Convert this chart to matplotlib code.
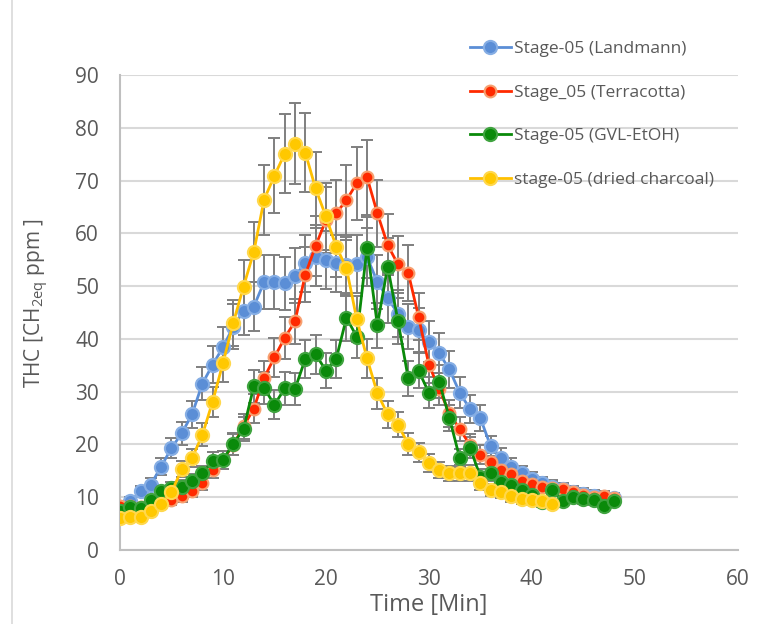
import numpy as np
import matplotlib
matplotlib.use("Agg")
import matplotlib.pyplot as plt
from matplotlib.lines import Line2D

plt.rcParams['font.family'] = ['Open Sans', 'DejaVu Sans']
plt.rcParams['mathtext.default'] = 'regular'

# data (THC in ppm, one point per minute)
landmann = [8.0, 9.2, 11.1, 12.4, 15.8, 19.3, 22.1, 25.7, 31.5, 35.1,
            38.4, 42.3, 45.3, 46.1, 50.8, 50.8, 50.5, 52.0, 54.3, 55.5,
            54.9, 54.3, 54.0, 54.2, 55.5, 50.8, 47.7, 44.8, 42.3, 41.6,
            39.5, 37.3, 34.2, 29.8, 26.7, 25.0, 19.7, 17.5, 15.8, 14.5,
            13.4, 12.6, 12.0, 11.5, 11.0, 10.6, 10.3, 10.0, 9.8]
terracotta = [8.3, 8.3, 8.1, 8.4, 8.8, 9.4, 10.2, 11.1, 12.6, 15.1,
              17.1, 19.9, 23.4, 26.8, 32.6, 36.5, 40.2, 43.3, 52.2, 57.6,
              62.5, 63.8, 66.3, 69.5, 70.6, 63.8, 57.8, 54.1, 52.5, 44.2,
              35.1, 30.5, 25.9, 22.9, 19.9, 18.0, 16.7, 15.2, 14.4, 13.1,
              12.5, 12.0, 11.8, 11.5, 10.9, 10.4, 10.1, 10.2, 9.8]
gvl_etoh = [7.3, 8.2, 7.9, 9.5, 11.1, 11.7, 12.0, 13.1, 14.5, 16.9,
            17.1, 20.1, 22.9, 31.0, 30.7, 27.5, 30.6, 30.5, 36.2, 37.1,
            34.0, 36.2, 44.0, 40.4, 57.3, 42.6, 53.7, 43.4, 32.5, 34.0,
            29.8, 31.9, 25.0, 17.4, 19.4, 13.9, 14.6, 12.9, 12.3, 11.4,
            10.4, 9.0, 11.3, 9.3, 10.0, 9.6, 9.4, 8.4, 9.3]
charcoal = [6.1, 6.3, 6.3, 7.3, 8.7, 10.9, 15.3, 17.4, 21.8, 28.1,
            35.4, 43.0, 49.9, 56.5, 66.4, 70.9, 75.1, 77.0, 75.3, 68.5,
            63.2, 57.5, 53.4, 43.7, 36.3, 29.7, 25.7, 23.7, 20.1, 18.5,
            16.5, 15.2, 14.5, 14.6, 14.6, 12.6, 11.4, 10.9, 10.2, 9.6,
            9.5, 9.2, 8.8]

labels = ["Stage-05 (Landmann)", "Stage_05 (Terracotta)",
          "Stage-05 (GVL-EtOH)", "stage-05 (dried charcoal)"]
series = [landmann, terracotta, gvl_etoh, charcoal]
ERR_PCT = 10  # percentage error bars

line_colors = ["#5B8ED6", "#FF2A00", "#0A8A0A", "#FFC000"]
face_colors = ["#5B8ED6", "#FF2A00", "#0A8A0A", "#FFC800"]
edge_colors = ["#86AEE4", "#F7A070", "#3FA33F", "#FFD84D"]
marker_sizes = [9.5, 8.5, 9.5, 9.5]

fig = plt.figure(figsize=(7.84, 6.24), dpi=100)
ax = fig.add_axes([0.153, 0.1186, 0.788, 0.7612])

for vals in series:
    y = np.array(vals)
    x = np.arange(len(y))
    ax.errorbar(x, y, yerr=y * ERR_PCT / 100, fmt='none', ecolor='#7F7F7F',
                elinewidth=1.4, capsize=4.5, capthick=1.4, zorder=2)

for i, vals in enumerate(series):
    y = np.array(vals)
    x = np.arange(len(y))
    ax.plot(x, y, color=line_colors[i], lw=2.0, marker='o',
            markersize=marker_sizes[i], markerfacecolor=face_colors[i],
            markeredgecolor=edge_colors[i], markeredgewidth=1.5,
            label=labels[i], zorder=3 + i)

ax.set_xlim(0, 60)
ax.set_ylim(0, 90)
ax.set_xticks(range(0, 61, 10))
ax.set_yticks(range(0, 91, 10))
ax.yaxis.grid(True, color='#D9D9D9', lw=1.5)
ax.set_axisbelow(True)
ax.tick_params(length=0, labelsize=15, colors='#595959')
ax.tick_params(axis='x', pad=14)
ax.tick_params(axis='y', pad=15)
for s in ['top', 'right']:
    ax.spines[s].set_visible(False)
for s in ['left', 'bottom']:
    ax.spines[s].set_color('#BFBFBF')
    ax.spines[s].set_linewidth(1.5)

ax.set_xlabel("Time [Min]", fontsize=17, color='#595959', labelpad=2)
ax.set_ylabel("THC [CH$_{2eq}$ ppm ]", fontsize=15, color='#595959', labelpad=4)
ax.yaxis.set_label_coords(-0.112, 0.52)

leg = ax.legend(loc='upper left', bbox_to_anchor=(0.566, 1.072), frameon=False,
                fontsize=12.5, handlelength=2.4, handletextpad=0.17,
                labelspacing=1.59, borderaxespad=0, borderpad=0)
for t in leg.get_texts():
    t.set_color('#595959')

# chart frame edge on the left
fig.add_artist(Line2D([12 / 784, 12 / 784], [0, 1], color='#D9D9D9', lw=1.2))

fig.savefig("out.png", dpi=100)
